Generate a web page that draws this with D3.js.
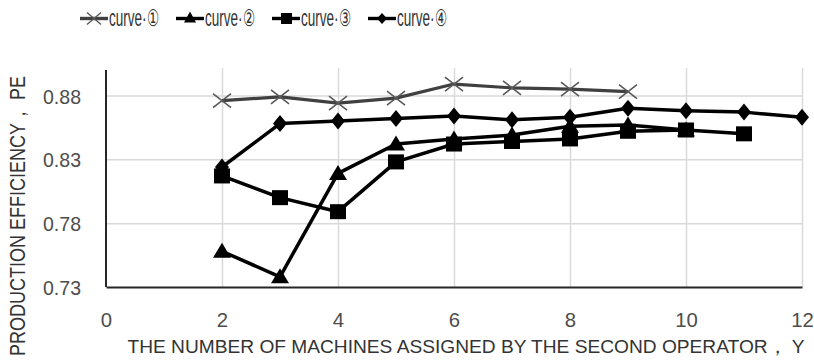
<!DOCTYPE html>
<html><head><meta charset="utf-8">
<script src="https://cdn.jsdelivr.net/npm/d3@7"></script>
<style>
html,body{margin:0;padding:0;background:#fff;}
svg{display:block;}
text{font-family:"Liberation Sans Narrow","Liberation Sans",Arial,sans-serif;}
</style></head>
<body>
<svg id="c" width="814" height="364"></svg>
<script>
// ---- data ----
const xTicks = [0, 2, 4, 6, 8, 10, 12];
const yTicks = [0.73, 0.78, 0.83, 0.88];
const seriesNames = ["curve\u00b7\u2460", "curve\u00b7\u2461", "curve\u00b7\u2462", "curve\u00b7\u2463"];
const curve1X = [2, 3, 4, 5, 6, 7, 8, 9];
const curve1Y = [0.876, 0.879, 0.874, 0.878, 0.889, 0.886, 0.885, 0.883];
const curve2X = [2, 3, 4, 5, 6, 7, 8, 9, 10];
const curve2Y = [0.758, 0.738, 0.819, 0.842, 0.846, 0.849, 0.856, 0.857, 0.853];
const curve3X = [2, 3, 4, 5, 6, 7, 8, 9, 10, 11];
const curve3Y = [0.817, 0.800, 0.789, 0.828, 0.842, 0.844, 0.846, 0.852, 0.853, 0.850];
const curve4X = [2, 3, 4, 5, 6, 7, 8, 9, 10, 11, 12];
const curve4Y = [0.824, 0.858, 0.860, 0.862, 0.864, 0.861, 0.863, 0.870, 0.868, 0.867, 0.863];
const xTitle = "THE NUMBER OF MACHINES ASSIGNED BY THE SECOND OPERATOR\uff0c Y";
const yTitle = "PRODUCTION EFFICIENCY\uff0c PE";

// ---- layout ----
const svg = d3.select("#c");
const L = 106, R = 802, T = 70, B = 287;
const x = d3.scaleLinear().domain([0, 12]).range([L, R]);
const y = d3.scaleLinear().domain([0.73, 0.90]).range([B, T]);
const tickColor = "#4d4d4d";

// gridlines
svg.append("g").attr("transform", `translate(0,${B})`)
  .call(d3.axisBottom(x).tickValues(xTicks.slice(1)).tickSize(-(B - T + 2)).tickFormat(""))
  .call(g => g.select(".domain").remove())
  .call(g => g.selectAll("line").attr("stroke", "#d9d9d9").attr("stroke-width", 1.5));
svg.append("g").attr("transform", `translate(${L},0)`)
  .call(d3.axisLeft(y).tickValues(yTicks.slice(1)).tickSize(-(R - L)).tickFormat(""))
  .call(g => g.select(".domain").remove())
  .call(g => g.selectAll("line").attr("stroke", "#d9d9d9").attr("stroke-width", 1.5));

// axes
const xAxis = svg.append("g").attr("transform", `translate(0,${B})`)
  .call(d3.axisBottom(x).tickValues(xTicks).tickSize(0).tickPadding(24).tickSizeOuter(0).tickFormat(d3.format("d")));
xAxis.select(".domain").attr("stroke", "#262626").attr("stroke-width", 2);
xAxis.selectAll("text").attr("fill", tickColor).attr("font-size", 21)
  .attr("dy", null).attr("y", 40)
  .each(function(d){ const s = String(d); d3.select(this).attr("textLength", s.length * 11.3).attr("lengthAdjust", "spacingAndGlyphs"); });

const yAxis = svg.append("g").attr("transform", `translate(${L},0)`)
  .call(d3.axisLeft(y).tickValues(yTicks).tickSize(0).tickPadding(25).tickSizeOuter(0).tickFormat(d3.format(".2f")));
yAxis.select(".domain").attr("stroke", "#262626").attr("stroke-width", 2).attr("d", `M0,${T}V${B}`);
yAxis.selectAll("text").attr("fill", tickColor).attr("font-size", 21).attr("dy", "0.36em")
  .attr("textLength", 38).attr("lengthAdjust", "spacingAndGlyphs");

// titles
svg.append("text").attr("x", 466).attr("y", 353).attr("text-anchor", "middle")
  .attr("fill", "#333").attr("font-size", 19)
  .attr("textLength", 677).attr("lengthAdjust", "spacingAndGlyphs").text(xTitle);
svg.append("text").attr("transform", "translate(25,216) rotate(-90)").attr("text-anchor", "middle")
  .attr("fill", "#333").attr("font-size", 22)
  .attr("textLength", 280).attr("lengthAdjust", "spacingAndGlyphs").text(yTitle);

// markers
function marker(g, type, cx, cy) {
  if (type === "x") {
    g.append("path").attr("d", `M${cx-9},${cy-7}L${cx+9},${cy+7}M${cx-9},${cy+7}L${cx+9},${cy-7}`)
      .attr("stroke", "#595959").attr("stroke-width", 1.6).attr("fill", "none");
  } else if (type === "tri") {
    g.append("path").attr("d", `M${cx},${cy-8.5}L${cx+9},${cy+6.5}L${cx-9},${cy+6.5}Z`).attr("fill", "#000");
  } else if (type === "sq") {
    g.append("rect").attr("x", cx - 8).attr("y", cy - 7.5).attr("width", 16).attr("height", 15).attr("fill", "#000");
  } else if (type === "dia") {
    g.append("path").attr("d", `M${cx},${cy-8.5}L${cx+7},${cy}L${cx},${cy+8.5}L${cx-7},${cy}Z`).attr("fill", "#000");
  }
}

const series = [
  {xs: curve1X, ys: curve1Y, type: "x", color: "#404040", w: 3.2},
  {xs: curve2X, ys: curve2Y, type: "tri", color: "#000", w: 3.5},
  {xs: curve3X, ys: curve3Y, type: "sq", color: "#000", w: 3.5},
  {xs: curve4X, ys: curve4Y, type: "dia", color: "#000", w: 3.5}
];
const line = d3.line().x(d => x(d[0])).y(d => y(d[1]));
series.forEach(s => {
  const pts = s.xs.map((v, i) => [v, s.ys[i]]);
  const g = svg.append("g");
  g.append("path").attr("d", line(pts)).attr("fill", "none").attr("stroke", s.color)
    .attr("stroke-width", s.w).attr("stroke-linejoin", "round");
  pts.forEach(p => marker(g, s.type, x(p[0]), y(p[1])));
});

// legend
const legX = [80, 176, 272, 368];
series.forEach((s, i) => {
  const g = svg.append("g");
  const x0 = legX[i], ly = 18.5;
  g.append("line").attr("x1", x0).attr("x2", x0 + 28).attr("y1", ly).attr("y2", ly)
    .attr("stroke", s.color).attr("stroke-width", 3.4);
  if (s.type === "x") {
    g.append("path").attr("d", `M${x0+14-7},${ly-6}L${x0+14+7},${ly+6}M${x0+14-7},${ly+6}L${x0+14+7},${ly-6}`)
      .attr("stroke", "#595959").attr("stroke-width", 1.4);
  } else if (s.type === "tri") {
    g.append("path").attr("d", `M${x0+14},${ly-7}L${x0+20},${ly+4}L${x0+8},${ly+4}Z`).attr("fill", "#000");
  } else if (s.type === "sq") {
    g.append("rect").attr("x", x0 + 9).attr("y", ly - 5.5).attr("width", 11).attr("height", 11).attr("fill", "#000");
  } else {
    g.append("path").attr("d", `M${x0+14},${ly-5.5}L${x0+19},${ly}L${x0+14},${ly+5.5}L${x0+9},${ly}Z`).attr("fill", "#000");
  }
  g.append("text").attr("x", x0 + 29).attr("y", 26).attr("fill", "#333").attr("font-size", 23)
    .attr("textLength", 50).attr("lengthAdjust", "spacingAndGlyphs").text(seriesNames[i]);
});
</script>
</body></html>
